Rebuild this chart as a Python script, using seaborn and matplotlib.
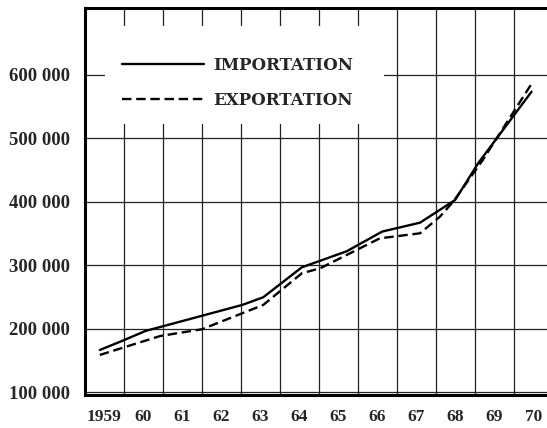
import numpy as np
import pandas as pd
import seaborn as sns
import matplotlib.pyplot as plt
from matplotlib.patches import Rectangle

# valeurs (abscisse en années fractionnaires)
import_years = [1959.38, 1959.95, 1960.55, 1963.03, 1963.57, 1964.56, 1965.71, 1966.62, 1967.59, 1968.49, 1969.08, 1970.45]
import_vals = [166800, 181000, 196700, 237600, 249700, 296800, 322000, 353000, 367000, 402700, 460400, 573000]

export_years = [1959.38, 1960.93, 1962.0, 1963.03, 1963.57, 1964.56, 1965.03, 1966.56, 1967.59, 1968.1, 1968.44, 1969.2, 1970.43]
export_vals = [159000, 188800, 199400, 224500, 237600, 287400, 295300, 342400, 350300, 376400, 400000, 465600, 583500]

year_labels = ['1959', '60', '61', '62', '63', '64', '65', '66', '67', '68', '69', '70']
y_ticks = [100000, 200000, 300000, 400000, 500000, 600000]

sns.set_style('white')
plt.rcParams['font.family'] = ['Liberation Serif', 'DejaVu Serif']

fig = plt.figure(figsize=(5.47, 4.28), dpi=100)
ax = fig.add_axes([85 / 547, 33 / 428, 468 / 547, 387 / 428])

sns.lineplot(x=import_years, y=import_vals, ax=ax, color='black', lw=1.7,
             sort=False, label='IMPORTATION')
sns.lineplot(x=export_years, y=export_vals, ax=ax, color='black', lw=1.7,
             sort=False, linestyle=(0, (4, 2)), label='EXPORTATION')

ax.set_xlim(1959, 1971)
ax.set_ylim(96000, 704600)

# grille : une colonne par année
ax.set_xticks(np.arange(1960, 1971), minor=True)
ax.set_xticks(np.arange(1959, 1971) + 0.5)
ax.set_xticklabels(year_labels, fontweight='bold')
ax.set_yticks(y_ticks)
ax.set_yticklabels([f'{v:,}'.replace(',', ' ') for v in y_ticks], fontweight='bold')
ax.grid(which='minor', axis='x', color='#222222', lw=0.9)
ax.grid(which='major', axis='y', color='#222222', lw=0.9)
ax.grid(which='major', axis='x', visible=False)
ax.set_axisbelow(True)

ax.tick_params(axis='x', which='both', length=0, pad=10, labelsize=12.5)
ax.tick_params(axis='y', length=0, pad=11, labelsize=13.5)
for side in ['left', 'top', 'bottom']:
    ax.spines[side].set_linewidth(2.2)
    ax.spines[side].set_color('black')
ax.spines['right'].set_visible(False)
ax.set_xlabel('')
ax.set_ylabel('')

# cartouche blanc de la légende
ax.add_patch(Rectangle((0.0427, 0.700), 0.596, 0.253, transform=ax.transAxes,
                       facecolor='white', edgecolor='none', zorder=1))
leg = ax.legend(loc='upper left', bbox_to_anchor=(0.079, 0.873), frameon=False,
                borderpad=0, borderaxespad=0, handlelength=4.9, handletextpad=0.55,
                labelspacing=1.05, prop={'family': 'DejaVu Serif', 'weight': 'bold', 'size': 12})

fig.savefig('out.png', dpi=100)
